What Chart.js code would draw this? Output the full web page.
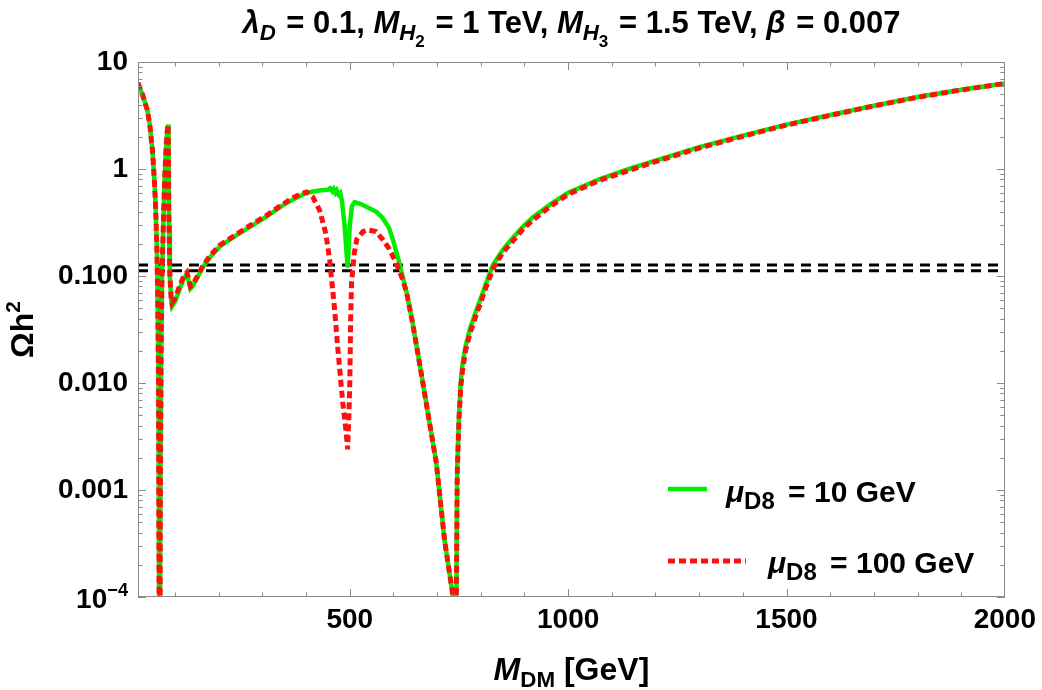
<!DOCTYPE html>
<html><head><meta charset="utf-8">
<script src="https://cdn.jsdelivr.net/npm/chart.js@4.4.1/dist/chart.umd.min.js"></script>
<style>html,body{margin:0;padding:0;background:#fff;}#wrap{width:1042px;height:690px;position:relative;}</style>
</head><body><div id="wrap"><canvas id="c" width="1042" height="690"></canvas></div>
<script>
// ---- data ----
const greenM = [15,20,25,30,36,42,48,52,55,58,60,62,64.5,66,68,70,73,76,79,82,84,85,86,88,91,93,100,110,120,127,131,135,140,150,164,180,203,240,279,310,340,370,401,430,450,455,460,463,467,470,474,478,482,488,495,500,505,511,525,540,560,575,590,600,614,630,644,660,675,698,717,735,742,744,746,750,754,758,765,775,790,800,815,827,850,870,895,918,960,1000,1071,1139,1200,1300,1400,1500,1600,1700,1800,1900,2000];
const greenOmega = [6.4,5.6,5.0,4.3,3.6,2.6,1.5,0.85,0.48,0.2,0.07,0.01,1e-6,5e-4,0.02,0.1,0.3,0.8,1.5,2.3,2.6,1.0,0.3,0.1,0.06,0.052,0.058,0.075,0.095,0.104,0.09,0.076,0.08,0.095,0.122,0.15,0.19,0.24,0.30,0.36,0.44,0.52,0.6,0.63,0.64,0.66,0.62,0.65,0.6,0.63,0.58,0.6,0.5,0.3,0.12,0.3,0.45,0.49,0.47,0.44,0.40,0.35,0.28,0.21,0.13,0.07,0.036,0.015,0.0065,0.0018,3.4e-4,1.1e-4,1e-6,1e-4,0.0016,0.005,0.01,0.015,0.022,0.032,0.048,0.062,0.092,0.125,0.175,0.22,0.285,0.35,0.47,0.6,0.8,1.0,1.2,1.6,2.05,2.6,3.2,3.9,4.7,5.5,6.3];
const redM = [15,20,25,30,36,42,48,52,55,58,60,62,64.5,66,68,70,73,76,79,82,84,85,86,88,91,93,100,110,120,127,131,135,140,150,164,180,203,240,279,310,340,370,390,401,415,431,445,454,465,473,484,490,495,498,500,502,504,510,516,530,541,560,575,590,607,620,630,644,660,675,698,717,735,742,744,746,750,754,758,765,775,790,800,815,827,850,870,895,918,960,1000,1071,1139,1200,1300,1400,1500,1600,1700,1800,1900,2000];
const redOmega = [6.4,5.6,5.0,4.3,3.6,2.6,1.5,0.85,0.48,0.2,0.07,0.01,1e-6,5e-4,0.02,0.1,0.3,0.8,1.5,2.3,2.6,1.0,0.3,0.1,0.062,0.056,0.062,0.08,0.1,0.108,0.094,0.08,0.083,0.098,0.125,0.155,0.195,0.245,0.31,0.37,0.45,0.54,0.59,0.61,0.55,0.41,0.25,0.14,0.05,0.02,0.0065,0.004,0.0024,0.005,0.01,0.04,0.086,0.16,0.22,0.26,0.27,0.26,0.22,0.18,0.13,0.095,0.07,0.036,0.015,0.0065,0.0018,3.4e-4,1.1e-4,1e-6,1e-4,0.0014,0.0045,0.009,0.013,0.02,0.029,0.044,0.057,0.085,0.115,0.165,0.205,0.27,0.33,0.45,0.58,0.78,0.97,1.17,1.57,2.02,2.57,3.17,3.88,4.68,5.48,6.3];
const relicBand = [0.112, 0.127];
const xRange = [15, 2000];
const yRange = [1e-4, 10];
const xTickValues = [500, 1000, 1500, 2000];
const xTickLabels = ['500', '1000', '1500', '2000'];
const xMinorTicks = [100,200,300,400,500,600,700,800,900,1000,1100,1200,1300,1400,1500,1600,1700,1800,1900];
const yTickValues = [1e-4, 1e-3, 1e-2, 0.1, 1, 10];
const yTickLabels = ['10^−4', '0.001', '0.010', '0.100', '1', '10'];
const seriesLabels = ['10 GeV', '100 GeV'];

// ---- helpers ----
const FONT = '"Liberation Sans", Arial, Helvetica, sans-serif';
function fnt(size, italic){ return (italic ? 'italic ' : '') + 'bold ' + size + 'px ' + FONT; }
function layoutRich(ctx, segs, base){
  let w = 0; const items = [];
  for (const s of segs){
    let size = base, dy = 0;
    if (s.sub === 1){ size = base * (s.scale || 0.72); dy = base * 0.22; }
    if (s.sub === 2){ size = base * 0.55; dy = base * 0.45; }
    if (s.sup){ size = base * 0.65; dy = -base * 0.42; }
    const font = fnt(size, s.i);
    ctx.font = font;
    w += (s.pad || 0);
    const tw = ctx.measureText(s.t).width;
    items.push({t: s.t, font, x: w, dy});
    w += tw;
  }
  return {items, w};
}
function drawRich(ctx, segs, base, x, y, align){
  const L = layoutRich(ctx, segs, base);
  const x0 = align === 'center' ? x - L.w / 2 : (align === 'right' ? x - L.w : x);
  ctx.textAlign = 'left'; ctx.textBaseline = 'alphabetic'; ctx.fillStyle = '#000';
  for (const it of L.items){ ctx.font = it.font; ctx.fillText(it.t, x0 + it.x, y + it.dy); }
}

const decor = {
  id: 'decor',
  afterDraw(chart){
    const ctx = chart.ctx, ca = chart.chartArea, xs = chart.scales.x, ys = chart.scales.y;
    ctx.save();
    // frame
    ctx.strokeStyle = '#8a8a8a'; ctx.lineWidth = 1;
    ctx.strokeRect(Math.round(ca.left) + 0.5, Math.round(ca.top) + 0.5, Math.round(ca.right - ca.left) - 1, Math.round(ca.bottom - ca.top) - 1);
    ctx.beginPath();
    for (const v of xMinorTicks){
      const px = Math.round(xs.getPixelForValue(v)) + 0.5;
      const len = xTickValues.includes(v) ? 8 : 4.5;
      ctx.moveTo(px, ca.bottom); ctx.lineTo(px, ca.bottom - len);
      ctx.moveTo(px, ca.top); ctx.lineTo(px, ca.top + len);
    }
    for (let d = 0; d < yTickValues.length; d++){
      const dec = yTickValues[d];
      const py = Math.round(ys.getPixelForValue(dec)) + 0.5;
      ctx.moveTo(ca.left, py); ctx.lineTo(ca.left + 8, py);
      ctx.moveTo(ca.right, py); ctx.lineTo(ca.right - 8, py);
      if (d < yTickValues.length - 1){
        for (let m = 2; m <= 9; m++){
          const pm = Math.round(ys.getPixelForValue(dec * m)) + 0.5;
          ctx.moveTo(ca.left, pm); ctx.lineTo(ca.left + 4.5, pm);
          ctx.moveTo(ca.right, pm); ctx.lineTo(ca.right - 4.5, pm);
        }
      }
    }
    ctx.stroke();
    // superscript y tick label(s)
    yTickLabels.forEach((lab, i) => {
      if (lab.indexOf('^') < 0) return;
      const parts = lab.split('^');
      const py = ys.getPixelForValue(yTickValues[i]);
      drawRich(ctx, [{t: parts[0]}, {t: parts[1], sup: true}], 28, ca.left - 10, py + 11, 'right');
    });
    // title
    const eq = (t) => ({t: '= ' + t, pad: 2});
    const title = [
      {t:'λ', i:true}, {t:'D', i:true, sub:1}, {t:' '}, eq('0.1, '),
      {t:'M', i:true}, {t:'H', i:true, sub:1}, {t:'2', sub:2}, {t:' '}, eq('1 TeV, '),
      {t:'M', i:true}, {t:'H', i:true, sub:1}, {t:'3', sub:2}, {t:' '}, eq('1.5 TeV, '),
      {t:'β', i:true}, {t:' '}, eq('0.007')
    ];
    drawRich(ctx, title, 31, (ca.left + ca.right) / 2, 33, 'center');
    // x title
    drawRich(ctx, [{t:'M', i:true}, {t:'DM', sub:1, scale:0.7}, {t:' [GeV]'}], 32, (ca.left + ca.right) / 2, 680, 'center');
    // y title
    ctx.save();
    ctx.translate(33, (ca.top + ca.bottom) / 2);
    ctx.rotate(-Math.PI / 2);
    drawRich(ctx, [{t:'Ωh'}, {t:'2', sup:true}], 32, 0, 0, 'center');
    ctx.restore();
    // legend
    const legendRows = [
      {ds: chart.data.datasets[1], y: 489, x1: 707, tx: 726, base: 502, label: seriesLabels[0]},
      {ds: chart.data.datasets[0], y: 561, x1: 746, tx: 768, base: 573, label: seriesLabels[1]}
    ];
    for (const r of legendRows){
      ctx.save();
      ctx.strokeStyle = r.ds.borderColor; ctx.lineWidth = r.ds.borderWidth;
      ctx.setLineDash(r.ds.borderDash || []);
      ctx.beginPath(); ctx.moveTo(668, r.y); ctx.lineTo(r.x1, r.y); ctx.stroke();
      ctx.restore();
      drawRich(ctx, [{t:'μ', i:true}, {t:'D8', sub:1, scale:0.8}, {t:' = ' + r.label, pad: 5}], 30, r.tx, r.base, 'left');
    }
    ctx.restore();
  }
};

const pts = (xs, ys) => xs.map((x, i) => ({x, y: ys[i]}));

new Chart(document.getElementById('c'), {
  type: 'line',
  data: {
    datasets: [
      {label: 'μD8 = ' + seriesLabels[1], data: pts(redM, redOmega), borderColor: '#ff1010', borderWidth: 5, borderDash: [7, 4], pointRadius: 0, tension: 0, fill: false, order: 0, clip: 0},
      {label: 'μD8 = ' + seriesLabels[0], data: pts(greenM, greenOmega), borderColor: '#00ee00', borderWidth: 4.5, pointRadius: 0, tension: 0, fill: false, order: 1, clip: 0},
      {label: 'upper', data: pts(xRange, [relicBand[1], relicBand[1]]), borderColor: '#000', borderWidth: 3, borderDash: [10, 7], pointRadius: 0, order: 2, clip: 0},
      {label: 'lower', data: pts(xRange, [relicBand[0], relicBand[0]]), borderColor: '#000', borderWidth: 3, borderDash: [10, 7], pointRadius: 0, order: 2, clip: 0}
    ]
  },
  options: {
    responsive: false, animation: false, devicePixelRatio: 1,
    layout: {padding: {left: 0, right: 37, top: 62, bottom: 0}},
    plugins: {legend: {display: false}, tooltip: {enabled: false}, title: {display: false}},
    scales: {
      x: {
        type: 'linear', min: xRange[0], max: xRange[1],
        grid: {display: false, drawTicks: false}, border: {display: false},
        afterBuildTicks: s => { s.ticks = xTickValues.map(v => ({value: v})); },
        afterFit: s => { s.height = 93; },
        ticks: {padding: 6, color: '#000', font: {family: FONT, size: 28, weight: 'bold'}, maxRotation: 0, autoSkip: false,
          callback: (v, i) => xTickLabels[i]}
      },
      y: {
        type: 'logarithmic', min: yRange[0], max: yRange[1],
        grid: {display: false, drawTicks: false}, border: {display: false},
        afterBuildTicks: s => { s.ticks = yTickValues.map(v => ({value: v})); },
        afterFit: s => { s.width = 138; },
        ticks: {padding: 10, color: '#000', font: {family: FONT, size: 28, weight: 'bold'}, autoSkip: false,
          callback: (v, i) => (yTickLabels[i].indexOf('^') >= 0 ? '' : yTickLabels[i])}
      }
    }
  },
  plugins: [decor]
});
</script></body></html>
